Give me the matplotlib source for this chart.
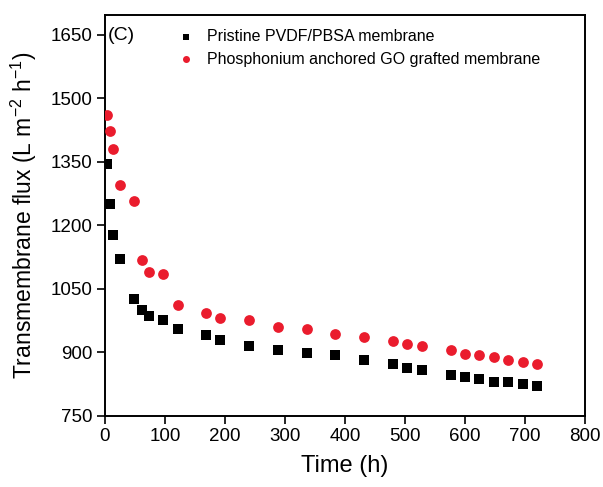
import numpy as np
import matplotlib.pyplot as plt

plt.rcParams['font.family'] = ['Liberation Sans', 'DejaVu Sans']

# время, ч
time_h = [3, 8, 14, 25, 48, 61, 73, 97, 121, 169, 192, 240, 288, 336, 384,
          432, 480, 504, 528, 576, 600, 624, 648, 672, 696, 720]
# поток, Л м-2 ч-1
flux_pristine = [1345, 1251, 1177, 1121, 1026, 1000, 986, 977, 955, 941, 930,
                 915, 906, 899, 894, 882, 873, 863, 859, 847, 842, 837, 830,
                 830, 826, 821]
flux_go = [1461, 1423, 1381, 1296, 1258, 1118, 1090, 1085, 1012, 993, 981,
           977, 960, 955, 944, 937, 927, 920, 915, 906, 896, 894, 889, 882,
           878, 873]

fig = plt.figure(figsize=(6.03, 4.87), dpi=100)
ax = fig.add_axes([0.174, 0.146, 0.796, 0.823])

ax.scatter(time_h, flux_pristine, marker='s', s=55, color='black', linewidths=0,
           label='Pristine PVDF/PBSA membrane', zorder=3)
ax.scatter(time_h, flux_go, marker='o', s=60, color='#ea1c2d', linewidths=0,
           label='Phosphonium anchored GO grafted membrane', zorder=3)

ax.set_xlim(0, 800)
ax.set_ylim(750, 1697)
ax.set_xticks(np.arange(0, 801, 100))
ax.set_yticks(np.arange(750, 1651, 150))
ax.tick_params(direction='out', length=6, width=1.2, labelsize=13.5, pad=3,
               top=False, right=False)
for sp in ax.spines.values():
    sp.set_linewidth(1.4)

ax.set_xlabel('Time (h)', fontsize=17, labelpad=7)
ax.set_ylabel('Transmembrane flux (L m$\\mathregular{^{-2}}$ h$\\mathregular{^{-1}}$)',
              fontsize=16.5, labelpad=8)

ax.text(0.005, 0.97, '(C)', transform=ax.transAxes, fontsize=14, va='top')
ax.legend(loc='upper left', bbox_to_anchor=(0.105, 1.0), frameon=False,
          fontsize=11.5, handletextpad=0.35, labelspacing=0.45, markerscale=0.65)

plt.savefig('out.png', dpi=100)
